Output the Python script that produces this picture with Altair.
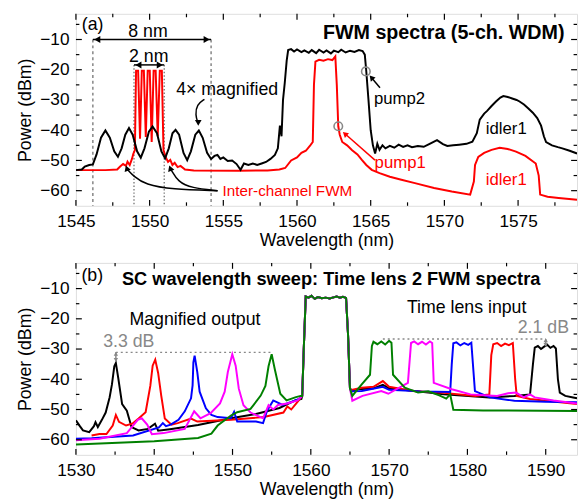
import altair as alt
import pandas as pd

# ---------------- Panel (a) data ----------------
a_black_x = [1545.0, 1545.4, 1545.6, 1545.9, 1546.15, 1546.4, 1546.7, 1547.0, 1547.3, 1547.6, 1547.85,
             1548.1, 1548.35, 1548.6, 1548.85, 1549.15, 1549.4, 1549.65, 1549.95, 1550.2, 1550.5, 1550.8,
             1551.05, 1551.3, 1551.55, 1551.76, 1552.0, 1552.3, 1552.55, 1552.8, 1553.1, 1553.34, 1553.6,
             1553.9, 1554.17, 1554.4, 1554.6, 1554.8, 1555.0, 1555.3, 1555.6, 1555.9, 1556.17, 1556.4,
             1556.7, 1557.0, 1557.3, 1557.6, 1557.9, 1558.2, 1558.5, 1558.7, 1558.84, 1558.95, 1559.05,
             1559.17, 1559.3, 1559.4, 1559.6, 1559.8, 1560.0, 1560.3, 1560.5, 1560.8, 1561.0, 1561.3,
             1561.5, 1561.8, 1562.0, 1562.3, 1562.5, 1562.8, 1563.0, 1563.3, 1563.6, 1563.9, 1564.2,
             1564.45, 1564.6, 1564.7, 1564.85, 1565.0, 1565.15, 1565.3, 1565.45, 1565.6, 1565.8, 1566.0,
             1566.3, 1566.6, 1566.9, 1567.2, 1567.5, 1567.8, 1568.2, 1568.6, 1569.0, 1569.5, 1569.9,
             1570.2, 1570.6, 1571.0, 1571.5, 1571.9, 1572.2, 1572.4, 1572.7, 1572.9, 1573.2, 1573.5,
             1573.8, 1574.0, 1574.3, 1574.6, 1574.9, 1575.1, 1575.4, 1575.7, 1576.0, 1576.3, 1576.56,
             1576.75, 1576.9, 1577.3, 1577.7, 1578.0, 1578.5, 1579.0]
a_black_y = [-53.2, -53.0, -52.0, -51.5, -51.3, -48.0, -42.5, -40.1, -42.5, -47.0, -48.8,
             -46.0, -41.5, -39.3, -41.5, -47.0, -49.1, -46.0, -40.5, -38.8, -41.0, -47.0,
             -49.3, -46.0, -41.0, -39.9, -41.5, -47.5, -49.9, -47.0, -41.5, -40.1, -42.5,
             -47.5, -49.5, -48.5, -48.2, -49.5, -49.0, -50.2, -50.0, -51.2, -53.1, -51.0,
             -51.5, -51.0, -51.5, -51.0, -50.5, -49.5, -48.2, -46.0, -38.5, -42.0, -30.0,
             -24.3, -17.0, -13.5, -13.2, -14.0, -13.3, -14.2, -13.6, -14.4, -13.5, -14.5,
             -13.4, -14.3, -13.6, -14.6, -13.7, -14.2, -13.4, -14.3, -13.7, -14.1, -13.5,
             -13.8, -15.0, -20.5, -30.0, -40.0, -45.0, -47.7, -44.5, -46.5, -45.0, -46.0,
             -45.2, -45.8, -44.8, -45.5, -45.0, -45.6, -45.2, -45.5, -44.5, -43.3, -44.6,
             -45.2, -45.0, -44.8, -44.5, -43.8, -41.0, -36.5, -34.5, -33.6, -32.0, -30.5,
             -29.2, -28.7, -29.0, -29.5, -30.0, -30.5, -31.5, -32.8, -34.2, -36.0, -38.5,
             -42.0, -43.9, -45.0, -45.6, -46.0, -46.8, -47.7]

a_red_x = [1545.0, 1547.0, 1547.8, 1548.0, 1548.2, 1548.4, 1548.5, 1548.65, 1548.8, 1548.9, 1549.0,
           1549.08, 1549.22, 1549.35, 1549.47, 1549.61, 1549.74, 1549.87, 1550.01, 1550.14, 1550.27,
           1550.41, 1550.55, 1550.69, 1550.83, 1550.94, 1551.1, 1551.25, 1551.4, 1551.55, 1551.7,
           1551.9, 1552.1, 1552.4, 1553.0, 1556.0, 1558.0, 1558.8, 1559.2, 1559.6, 1560.0, 1560.3,
           1560.6, 1560.9, 1561.07, 1561.15, 1561.25, 1561.5, 1561.8, 1562.1, 1562.4, 1562.6, 1562.7,
           1562.8, 1562.9, 1563.07, 1563.4, 1563.74, 1564.1, 1564.4, 1564.7, 1565.07, 1565.6, 1566.3,
           1567.08, 1568.0, 1569.3, 1570.5, 1571.75, 1572.0, 1572.08, 1572.3, 1572.7, 1573.2, 1573.75,
           1574.3, 1574.86, 1575.5, 1576.2, 1576.4, 1576.5, 1577.0, 1577.75, 1579.0]
a_red_y = [-53.2, -53.2, -53.0, -52.0, -51.2, -51.8, -50.4, -51.5, -49.5, -47.7, -46.6,
           -20.3, -20.3, -42.8, -20.3, -20.3, -42.2, -20.3, -20.3, -43.9, -20.3,
           -20.3, -42.0, -20.3, -20.3, -46.6, -49.0, -50.5, -49.8, -51.5, -50.8,
           -52.2, -51.8, -53.0, -53.3, -53.4, -53.3, -53.0, -52.5, -50.0, -49.0, -47.5,
           -46.8, -45.0, -43.9, -25.0, -17.3, -16.7, -17.0, -16.5, -16.8, -15.6, -25.0,
           -38.7, -41.5, -43.9, -45.0, -46.6, -48.0, -49.8, -51.5, -53.1, -54.2, -55.4,
           -56.4, -57.5, -59.1, -60.3, -61.3, -57.0, -51.5, -48.8, -47.5, -46.5, -45.8,
           -46.2, -47.1, -48.5, -51.0, -55.0, -61.3, -62.0, -62.4, -63.0]

# ---------------- Panel (b) data ----------------
b_pump_x = [1558.9, 1559.1, 1559.35, 1559.7, 1560.1, 1560.5, 1560.9, 1561.4, 1561.9, 1562.4,
            1562.9, 1563.3, 1563.7, 1564.1, 1564.5, 1564.75, 1565.0]
b_pump_y = [-45.5, -30.0, -12.6, -13.0, -12.4, -13.4, -12.8, -13.2, -13.0, -13.3,
            -12.9, -12.6, -13.0, -12.7, -13.1, -25.0, -43.0]

b_black_pre_x = [1530.0, 1530.5, 1530.9, 1531.7, 1532.3, 1532.5, 1532.8, 1533.3, 1533.8, 1534.3, 1534.6,
                 1534.9, 1535.1, 1535.4, 1535.9, 1536.5, 1537.1, 1538.0, 1539.2, 1540.1, 1540.5, 1542.0,
                 1545.6, 1549.8, 1553.0, 1556.0, 1558.0, 1558.8]
b_black_pre_y = [-53.6, -55.5, -56.9, -57.5, -55.5, -54.2, -55.8, -53.5, -51.0, -46.0, -41.7,
                 -35.7, -34.6, -39.5, -48.2, -50.4, -55.8, -56.9, -56.4, -54.7, -57.0, -56.5,
                 -55.1, -52.9, -51.5, -49.5, -47.0, -46.5]
b_black_post_x = [1565.2, 1566.0, 1568.0, 1569.2, 1570.0, 1573.0, 1577.0, 1582.8, 1586.0, 1588.0, 1588.37,
                  1588.6, 1589.0, 1589.4, 1589.8, 1590.2, 1590.6, 1591.0, 1591.3, 1591.56, 1591.8, 1592.5,
                  1593.5, 1594.0]
b_black_post_y = [-44.0, -43.3, -43.0, -41.8, -43.0, -43.8, -45.0, -46.0, -45.5, -45.0, -35.0,
                  -29.5, -29.0, -30.0, -29.2, -28.6, -29.6, -29.0, -29.8, -40.0, -44.4, -45.5,
                  -46.0, -46.3]

b_red_pre_x = [1532.0, 1533.0, 1533.9, 1534.7, 1535.1, 1535.5, 1536.4, 1537.2, 1538.0, 1538.9, 1539.5,
               1539.8, 1540.13, 1540.5, 1540.9, 1541.35, 1542.2, 1543.0, 1544.7, 1545.5, 1549.8, 1554.0,
               1556.5, 1557.0, 1557.5, 1558.3]
b_red_pre_y = [-58.6, -58.1, -58.1, -55.3, -51.8, -54.1, -55.3, -54.7, -53.0, -50.9, -42.2,
               -35.5, -33.5, -37.9, -45.5, -53.0, -55.0, -54.5, -53.0, -54.0, -53.4, -52.5,
               -51.0, -49.0, -50.0, -47.5]
b_red_post_x = [1565.2, 1566.5, 1568.0, 1569.2, 1570.0, 1573.0, 1577.0, 1581.0, 1582.8, 1583.05, 1583.3,
                1583.8, 1584.3, 1584.8, 1585.3, 1585.8, 1586.1, 1586.3, 1588.0, 1590.0, 1594.0]
b_red_post_y = [-43.5, -42.8, -42.5, -40.6, -42.5, -43.9, -44.5, -45.5, -45.0, -32.0, -28.4,
                -28.0, -29.0, -28.2, -28.7, -28.0, -40.0, -45.5, -46.5, -47.1, -48.2]

b_blue_pre_x = [1530.0, 1532.0, 1537.3, 1540.6, 1541.1, 1541.5, 1542.1, 1543.1, 1543.9, 1544.7, 1544.9,
                1545.0, 1545.16, 1545.5, 1545.8, 1546.6, 1547.3, 1548.1, 1549.8, 1550.2, 1550.6, 1553.0,
                1553.9, 1554.4, 1555.2, 1556.4, 1557.5, 1558.5]
b_blue_pre_y = [-59.7, -59.5, -58.6, -55.9, -54.5, -55.5, -55.0, -53.4, -50.6, -46.3, -42.0,
                -34.4, -32.2, -37.6, -44.1, -49.6, -51.8, -52.5, -52.9, -50.8, -54.0, -54.0,
                -54.5, -50.5, -47.0, -48.5, -47.5, -46.5]
b_blue_post_x = [1565.2, 1566.5, 1569.2, 1570.0, 1574.0, 1577.8, 1578.0, 1578.2, 1578.6, 1579.1, 1579.6,
                 1580.1, 1580.5, 1580.96, 1582.85, 1586.0, 1590.0, 1594.0]
b_blue_post_y = [-44.0, -43.9, -42.5, -43.5, -44.0, -44.2, -35.0, -28.1, -27.8, -28.8, -28.0,
                 -28.6, -27.9, -43.9, -46.0, -47.1, -47.4, -47.6]

b_mag_pre_x = [1530.0, 1533.0, 1536.5, 1537.4, 1537.9, 1538.4, 1539.1, 1539.7, 1541.2, 1543.9, 1545.1,
               1545.9, 1547.2, 1548.4, 1549.0, 1549.4, 1549.97, 1550.4, 1550.8, 1551.4, 1552.3, 1553.9,
               1554.6, 1555.2, 1555.8, 1557.0, 1558.3]
b_mag_pre_y = [-60.2, -59.7, -57.8, -55.0, -53.4, -52.9, -55.0, -58.2, -57.8, -56.4, -50.6,
               -52.9, -51.2, -48.0, -44.1, -37.6, -31.7, -35.5, -43.1, -48.6, -51.0, -52.9,
               -48.6, -50.0, -48.5, -48.0, -47.0]
b_mag_post_x = [1565.3, 1566.6, 1569.0, 1569.9, 1572.4, 1572.8, 1573.2, 1573.7, 1574.2, 1574.7, 1575.2,
                1575.5, 1575.7, 1578.0, 1580.4, 1583.8, 1585.2, 1586.2, 1587.2, 1588.0, 1588.6, 1591.0,
                1594.0]
b_mag_post_y = [-47.1, -45.5, -43.9, -44.8, -41.2, -28.0, -27.5, -28.4, -27.6, -28.5, -27.5,
                -28.0, -41.2, -43.3, -45.0, -45.5, -44.6, -44.4, -46.0, -45.0, -46.0, -47.0,
                -48.0]

b_green_pre_x = [1530.0, 1540.0, 1545.6, 1547.3, 1548.1, 1549.8, 1550.6, 1552.3, 1553.6, 1554.2, 1554.6,
                 1555.0, 1555.4, 1556.1, 1556.9, 1558.1, 1558.7]
b_green_pre_y = [-61.6, -60.5, -59.4, -58.0, -55.3, -52.0, -50.9, -49.8, -45.4, -42.2, -35.7,
                 -31.7, -36.7, -44.8, -47.0, -45.9, -45.5]
b_green_post_x = [1565.3, 1566.5, 1567.56, 1567.8, 1568.0, 1568.5, 1569.0, 1569.5, 1570.0, 1570.3, 1570.5,
                  1572.0, 1573.7, 1575.0, 1576.4, 1577.3, 1577.8, 1578.2, 1582.0, 1594.0]
b_green_post_y = [-45.5, -41.7, -38.5, -29.0, -27.6, -28.4, -27.5, -28.5, -27.3, -27.9, -38.5,
                  -42.8, -44.4, -44.0, -45.3, -46.4, -45.0, -50.1, -50.3, -50.5]

# ticks
a_xmaj = [1545, 1550, 1555, 1560, 1565, 1570, 1575]
a_xmin = [1547.5, 1552.5, 1557.5, 1562.5, 1567.5, 1572.5, 1577.5]
b_xmaj = [1530, 1540, 1550, 1560, 1570, 1580, 1590]
b_xmin = [1535, 1545, 1555, 1565, 1575, 1585]
ymaj = [-60, -50, -40, -30, -20, -10]
ymin = [-55, -45, -35, -25, -15, -5]

FONT = "Liberation Sans"
W, H = 509, 195
GRAY = "#888888"


def xaxis(vals):
    return alt.Axis(values=vals, format="d", title="Wavelength (nm)", grid=False, domain=False,
                    ticks=False, labelFontSize=17.5, labelPadding=7, titleFontSize=18,
                    titleFontWeight="normal", titlePadding=2, minExtent=24, maxExtent=24,
                    labelColor="black", titleColor="black", labelFlush=False, labelOverlap=False,
                    labelFont=FONT, titleFont=FONT)


YAXIS = alt.Axis(values=ymaj, format="d", title="Power (dBm)", grid=False, domain=False, ticks=False,
                 labelFontSize=17.5, labelPadding=7, titleFontSize=18, titleFontWeight="normal",
                 titlePadding=9, minExtent=33, maxExtent=33, labelColor="black",
                 titleColor="black", labelOverlap=False, labelFont=FONT, titleFont=FONT)

# panel scale + axis pairs
PA = (alt.Scale(domain=[1545, 1579], nice=False, zero=False), xaxis(a_xmaj))
PB = (alt.Scale(domain=[1530, 1594], nice=False, zero=False), xaxis(b_xmaj))
YS = alt.Scale(domain=[-65, -1.5], nice=False, zero=False)


def X(p, f="x"):
    return alt.X(f"{f}:Q", scale=p[0], axis=p[1])


def Y(f="y"):
    return alt.Y(f"{f}:Q", scale=YS, axis=YAXIS)


def line(p, xv, yv, color, width=2.0):
    df = pd.DataFrame({"x": xv, "y": yv, "i": list(range(len(xv)))})
    return alt.Chart(df).mark_line(color=color, strokeWidth=width, clip=True).encode(
        x=X(p), y=Y(), order="i:Q")


def ticks(p, xmaj, xmin):
    layers = []
    for vals, L in [(xmaj, 6), (xmin, 3.5)]:
        dfx = pd.DataFrame({"x": vals})
        r = alt.Chart(dfx).mark_rule(color="black", strokeWidth=1.2)
        layers.append(r.encode(x=X(p), y=alt.value(H), y2=alt.value(H - L)))
        layers.append(r.encode(x=X(p), y=alt.value(0), y2=alt.value(L)))
    for vals, L in [(ymaj, 6), (ymin, 3.5)]:
        dfy = pd.DataFrame({"y": vals})
        r = alt.Chart(dfy).mark_rule(color="black", strokeWidth=1.2)
        layers.append(r.encode(y=Y(), x=alt.value(0), x2=alt.value(L)))
        layers.append(r.encode(y=Y(), x=alt.value(W), x2=alt.value(W - L)))
    return layers


def text(p, x, y, t, size=18, color="black", align="center", weight="normal", baseline="middle"):
    df = pd.DataFrame({"x": [x], "y": [y], "t": [t]})
    return alt.Chart(df).mark_text(font=FONT, fontSize=size, color=color, align=align,
                                   baseline=baseline, fontWeight=weight).encode(
        x=X(p), y=Y(), text="t:N")


def head(p, x, y, shape, color="black", size=50, angle=0):
    df = pd.DataFrame({"x": [x], "y": [y]})
    return alt.Chart(df).mark_point(shape=shape, filled=True, color=color, size=size,
                                    angle=angle, opacity=1).encode(x=X(p), y=Y())


def hrule(p, x1, x2, y, color="black", width=1.5, dash=None):
    df = pd.DataFrame({"x": [x1], "x2": [x2], "y": [y]})
    kw = dict(color=color, strokeWidth=width)
    if dash:
        kw["strokeDash"] = dash
    return alt.Chart(df).mark_rule(**kw).encode(x=X(p), x2="x2:Q", y=Y())


def vrule(p, x, y1, y2, color="black", width=1.5, dash=None):
    df = pd.DataFrame({"x": [x], "y": [y1], "y2": [y2]})
    kw = dict(color=color, strokeWidth=width)
    if dash:
        kw["strokeDash"] = dash
    return alt.Chart(df).mark_rule(**kw).encode(x=X(p), y=Y(), y2="y2:Q")


def curve(p, xv, yv, color="black", width=1.5):
    df = pd.DataFrame({"x": xv, "y": yv, "i": list(range(len(xv)))})
    return alt.Chart(df).mark_line(color=color, strokeWidth=width, interpolate="basis").encode(
        x=X(p), y=Y(), order="i:Q")


# ---------------- Panel (a) ----------------
la = []
la.append(vrule(PA, 1546.15, -10, -65, color="#666666", width=1.2, dash=[3, 3]))
la.append(vrule(PA, 1554.17, -10, -65, color="#666666", width=1.2, dash=[3, 3]))
la.append(vrule(PA, 1548.94, -18.4, -65, color="#666666", width=1.2, dash=[1.5, 2]))
la.append(vrule(PA, 1550.99, -18.4, -65, color="#666666", width=1.2, dash=[1.5, 2]))
la.append(line(PA, a_red_x, a_red_y, "#ff0000", 2.0))
la.append(line(PA, a_black_x, a_black_y, "black", 2.0))
la += ticks(PA, a_xmaj, a_xmin)
la.append(hrule(PA, 1546.15, 1554.17, -10))
la.append(head(PA, 1546.45, -10, "triangle-left"))
la.append(head(PA, 1553.87, -10, "triangle-right"))
la.append(hrule(PA, 1548.94, 1550.99, -18.4))
la.append(head(PA, 1549.24, -18.4, "triangle-left"))
la.append(head(PA, 1550.69, -18.4, "triangle-right"))
la.append(text(PA, 1549.89, -7.5, "8 nm"))
la.append(text(PA, 1549.94, -15.7, "2 nm"))
la.append(text(PA, 1545.4, -5.3, "(a)", align="left"))
la.append(text(PA, 1578.15, -7.85, "FWM spectra (5-ch. WDM)", size=20, weight="bold", align="right"))
la.append(text(PA, 1555.26, -26.7, "4\u00d7 magnified"))
la.append(curve(PA, [1553.72, 1553.2, 1553.1, 1553.28], [-29.8, -31.5, -35.0, -37.5]))
la.append(head(PA, 1553.3, -37.6, "triangle-down", size=45))
la.append(curve(PA, [1554.61, 1551.5, 1549.71, 1548.93, 1548.5], [-60.0, -59.6, -58.0, -55.3, -53.0]))
la.append(curve(PA, [1554.61, 1552.83, 1551.94, 1551.45], [-60.0, -59.1, -57.1, -53.0]))
la.append(head(PA, 1548.45, -52.6, "triangle-up", size=45, angle=340))
la.append(head(PA, 1551.4, -52.6, "triangle-up", size=45, angle=340))
la.append(text(PA, 1554.95, -60, "Inter-channel FWM", size=15.5, color="#ff0000", align="left"))
circ = pd.DataFrame({"x": [1564.67, 1562.8], "y": [-20.55, -38.7]})
la.append(alt.Chart(circ).mark_point(shape="circle", filled=False, color=GRAY, strokeWidth=1.6,
                                     size=75, opacity=1).encode(x=X(PA), y=Y()))
la.append(curve(PA, [1565.63, 1565.1], [-25.96, -22.9]))
la.append(head(PA, 1565.05, -22.6, "triangle-up", size=40, angle=319))
la.append(curve(PA, [1565.29, 1563.35], [-49.9, -41.6], color="#ff0000"))
la.append(head(PA, 1563.25, -41.2, "triangle-up", size=40, color="#ff0000", angle=311))
la.append(text(PA, 1566.96, -29.8, "pump2", size=17))
la.append(text(PA, 1574.2, -39.5, "idler1", size=17))
la.append(text(PA, 1567.0, -51.0, "pump1", size=17, color="#ff0000"))
la.append(text(PA, 1574.2, -56.4, "idler1", size=17, color="#ff0000"))
panel_a = alt.layer(*la).properties(width=W, height=H)

# ---------------- Panel (b) ----------------
lb = []
lb.append(line(PB, b_black_pre_x + b_pump_x + b_black_post_x, b_black_pre_y + b_pump_y + b_black_post_y,
               "black", 2.0))
lb.append(line(PB, b_red_pre_x + b_pump_x + b_red_post_x, b_red_pre_y + b_pump_y + b_red_post_y,
               "#ff0000", 2.0))
lb.append(line(PB, b_blue_pre_x + b_pump_x + b_blue_post_x, b_blue_pre_y + b_pump_y + b_blue_post_y,
               "#0000ff", 2.0))
lb.append(line(PB, b_mag_pre_x + b_pump_x + b_mag_post_x, b_mag_pre_y + b_pump_y + b_mag_post_y,
               "#ff00ff", 2.0))
lb.append(line(PB, b_green_pre_x + b_pump_x + b_green_post_x, b_green_pre_y + b_pump_y + b_green_post_y,
               "#008000", 2.0))
lb += ticks(PB, b_xmaj, b_xmin)
lb.append(hrule(PB, 1535.1, 1555.1, -31.1, color=GRAY, width=1.5, dash=[2, 3]))
lb.append(hrule(PB, 1569.2, 1590.0, -26.7, color=GRAY, width=1.5, dash=[2, 3]))
lb.append(vrule(PB, 1535.1, -31.1, -34.0, color=GRAY, width=1.5))
lb.append(head(PB, 1535.1, -33.6, "triangle-down", color=GRAY, size=20))
lb.append(head(PB, 1535.1, -31.6, "triangle-up", color=GRAY, size=20))
lb.append(vrule(PB, 1590.0, -26.7, -29.0, color=GRAY, width=1.5))
lb.append(head(PB, 1590.0, -28.6, "triangle-down", color=GRAY, size=20))
lb.append(head(PB, 1590.0, -27.1, "triangle-up", color=GRAY, size=20))
lb.append(text(PB, 1530.7, -5.9, "(b)", align="left"))
lb.append(text(PB, 1535.87, -6.97, "SC wavelength sweep: Time lens 2 FWM spectra", size=18.5,
               weight="bold", align="left"))
lb.append(text(PB, 1545.2, -20.3, "Magnified output"))
lb.append(text(PB, 1579.9, -16.5, "Time lens input"))
lb.append(text(PB, 1536.75, -27.6, "3.3 dB", color=GRAY))
lb.append(text(PB, 1589.7, -23.0, "2.1 dB", color=GRAY))
panel_b = alt.layer(*lb).properties(width=W, height=H)

chart = alt.vconcat(panel_a, panel_b, spacing=11).properties(
    padding={"left": 8, "top": 0, "right": 0, "bottom": 0}
).configure_view(stroke="black", strokeWidth=1.6).configure(font=FONT)

chart.save("out.html", embed_options={"renderer": "svg", "actions": False})
